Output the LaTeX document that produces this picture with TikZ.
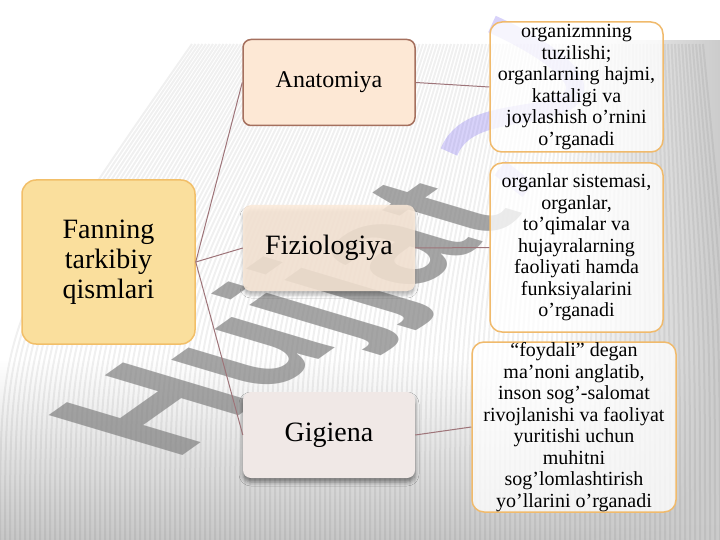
\documentclass[tikz,border=0pt]{standalone}
\usepackage{fontspec}
\setmainfont{Liberation Serif}
\newfontfamily\wmfont{Liberation Sans}
\usetikzlibrary{shadows.blur,fadings}
\definecolor{fanfill}{HTML}{FADF9D}
\definecolor{fanline}{HTML}{F2BF69}
\definecolor{anafill}{HTML}{FDE8D5}
\definecolor{analine}{HTML}{A5705E}
\definecolor{fizfill}{HTML}{FBE9D8}
\definecolor{gigfill}{HTML}{F0E8E6}
\definecolor{descline}{HTML}{F0BA6C}
\definecolor{connc}{HTML}{9E7479}
\definecolor{wmpurple}{HTML}{7E6CF0}
\tikzfading[name=wmright, left color=transparent!100, right color=transparent!0]
\tikzfading[name=wmdown, top color=transparent!100, bottom color=transparent!0]
\tikzset{
  hub/.style={draw=fanline, fill=fanfill, line width=1.5pt, rounded corners=14pt,
    minimum width=173pt, minimum height=164pt, inner sep=0pt, align=center,
    font=\fontsize{28}{30}\selectfont},
  midbox/.style={rounded corners=8pt, minimum width=172pt, minimum height=86pt,
    inner sep=0pt, align=center},
  anabox/.style={midbox, draw=analine, fill=anafill, line width=1.5pt, font=\fontsize{24}{26}\selectfont},
  fizbox/.style={midbox, fill=fizfill, fill opacity=0.85, text opacity=1, font=\fontsize{28}{30}\selectfont,
    blur shadow={shadow xshift=0pt, shadow yshift=-4pt, shadow blur radius=3pt, shadow opacity=30}},
  gigbox/.style={midbox, fill=gigfill, font=\fontsize{28}{30}\selectfont,
    blur shadow={shadow xshift=0pt, shadow yshift=-4pt, shadow blur radius=4pt, shadow opacity=45}},
  descbox/.style={draw=descline, fill=white, fill opacity=0.78, draw opacity=1, text opacity=1,
    line width=1.5pt, rounded corners=12pt,
    inner sep=0pt, align=center, font=\fontsize{20}{21.5}\selectfont},
  conn/.style={draw=connc, line width=1pt},
  stripe/.style={draw=black, opacity=0.06, line width=2pt}
}
\begin{document}
\begin{tikzpicture}[x=1pt,y=-1pt]
\useasboundingbox (0,0) rectangle (720,540);
% background
\fill[white] (0,0) rectangle (720,540);
\fill[black!22, path fading=wmdown] (0,360) rectangle (720,540);
\fill[black!20, path fading=wmright] (560,40) rectangle (720,540);
\foreach \i in {0,...,146} {
  \pgfmathsetmacro\xb{\i*5}
  \pgfmathsetmacro\xt{\xb+0.3*(640-\xb)}
  \draw[stripe] (\xb,540) .. controls (\xb,320) .. (\xt,44);
}
% watermark (behind the boxes)
\begin{scope}[shift={(300,322)}, yscale=0.46]
  \node[rotate=57, transform shape, inner sep=0pt, text=black!50, text opacity=0.7,
    font=\wmfont\bfseries\fontsize{232}{232}\selectfont] (wm) at (0,0) {Hujjat};
\end{scope}
\draw[wmpurple, opacity=0.3, line width=18pt]
  (492,24) .. controls (560,55) and (610,95) .. (545,110)
  .. controls (500,118) and (462,120) .. (449,152);
\draw[wmpurple, opacity=0.3, line width=18pt] (500,168) -- (528,190);
% nodes
\node[hub] (fan) at (108.5,262) {Fanning\\tarkibiy\\qismlari};
\node[anabox] (ana) at (329,82.5) {Anatomiya};
\node[fizbox] (fiz) at (329,248) {Fiziologiya};
\node[gigbox] (gig) at (329,435) {Gigiena};
\node[descbox, minimum width=173pt, minimum height=130pt] (d1) at (576.5,87)
  {organizmning\\tuzilishi;\\organlarning hajmi,\\kattaligi va\\joylashish o’rnini\\o’rganadi};
\node[descbox, minimum width=173pt, minimum height=169pt] (d2) at (576.5,247.5)
  {organlar sistemasi,\\organlar,\\to’qimalar va\\hujayralarning\\faoliyati hamda\\funksiyalarini\\o’rganadi};
\node[descbox, minimum width=204pt, minimum height=170pt] (d3) at (574,427)
  {“foydali” degan\\ma’noni anglatib,\\inson sog’-salomat\\rivojlanishi va faoliyat\\yuritishi uchun\\muhitni\\sog’lomlashtirish\\yo’llarini o’rganadi};
% connectors
\draw[conn] (fan.east) -- (ana.west);
\draw[conn] (fan.east) -- (fiz.west);
\draw[conn] (fan.east) -- (gig.west);
\draw[conn] (ana.east) -- (d1.west);
\draw[conn] (fiz.east) -- (d2.west);
\draw[conn] (gig.east) -- (d3.west);
\end{tikzpicture}
\end{document}
